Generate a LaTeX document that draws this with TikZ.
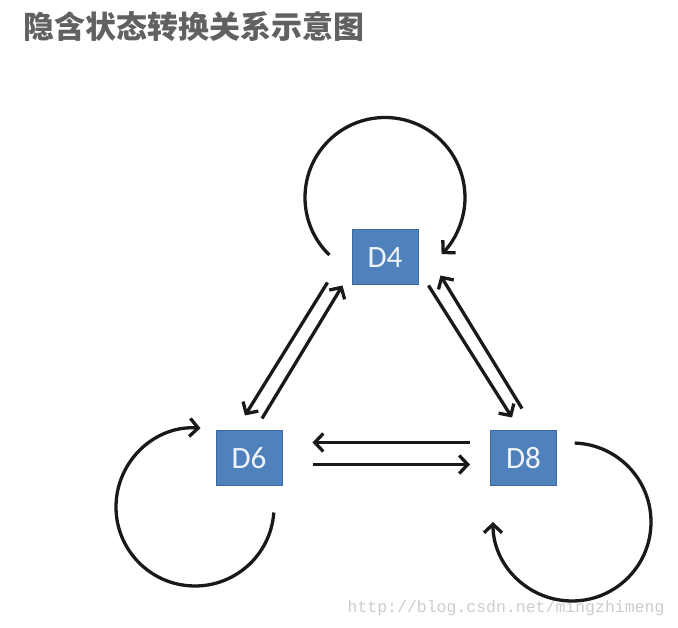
\documentclass[tikz,border=0pt]{standalone}
\usepackage{fontspec}
\usepackage{xcolor}
\usetikzlibrary{arrows.meta}
\newfontfamily\cjkfont{Noto Sans CJK SC}
\newfontfamily\boxfont{Carlito}
\newfontfamily\markfont{Liberation Mono}
\definecolor{stateblue}{HTML}{4F81BD}
\definecolor{stateline}{HTML}{3C6A9E}

\begin{document}
\begin{tikzpicture}[x=1pt,y=1pt,state/.style={draw=stateline,line width=1pt,fill=stateblue,text=white!92!stateblue,minimum width=66pt,minimum height=55pt,inner sep=0pt,font=\boxfont\fontsize{31}{31}\selectfont},edge/.style={-{Straight Barb[length=8.5pt,width=18pt]},line width=3.3pt,draw=black!90}]
\useasboundingbox (0,0) rectangle (678,628);
\node[anchor=west,text=black!62,font=\cjkfont\bfseries\fontsize{31}{31}\selectfont] (title) at (20,601) {隐含状态转换关系示意图};
\node[state] (d4) at (385,370.5) {D4};
\node[state] (d6) at (249,169.5) {D6};
\node[state] (d8) at (523.5,169.5) {D8};
\node[anchor=east,text=black!20,font=\markfont\fontsize{16.5}{16.5}\selectfont] (mark) at (668,20) {http://blog.csdn.net/mingzhimeng};
% self loops
\draw[edge] (d4) ++(0,60) ++(226:80) arc[start angle=226,end angle=-45,radius=80];
\draw[edge] (d6) ++(-54,-48.5) ++(-4:79) arc[start angle=-4,end angle=-274,radius=79];
\draw[edge] (d8) ++(48.5,-63.5) ++(88:79) arc[start angle=88,end angle=-180,radius=79];
% D4 <-> D6
\draw[edge] ([shift={(-24,3)}]d4.south west) -- ([shift={(-4,15)}]d6.north);
\draw[edge] ([shift={(13,12)}]d6.north) -- ([shift={(-9,0)}]d4.south west);
% D4 <-> D8
\draw[edge] ([shift={(10,0)}]d4.south east) -- ([shift={(-11.5,13)}]d8.north);
\draw[edge] ([shift={(-1.5,22)}]d8.north) -- ([shift={(22,10)}]d4.south east);
% D6 <-> D8
\draw[edge] ([shift={(-20,16)}]d8.west) -- ([shift={(30,16)}]d6.east);
\draw[edge] ([shift={(30,-6)}]d6.east) -- ([shift={(-20,-6)}]d8.west);
\end{tikzpicture}
\end{document}
